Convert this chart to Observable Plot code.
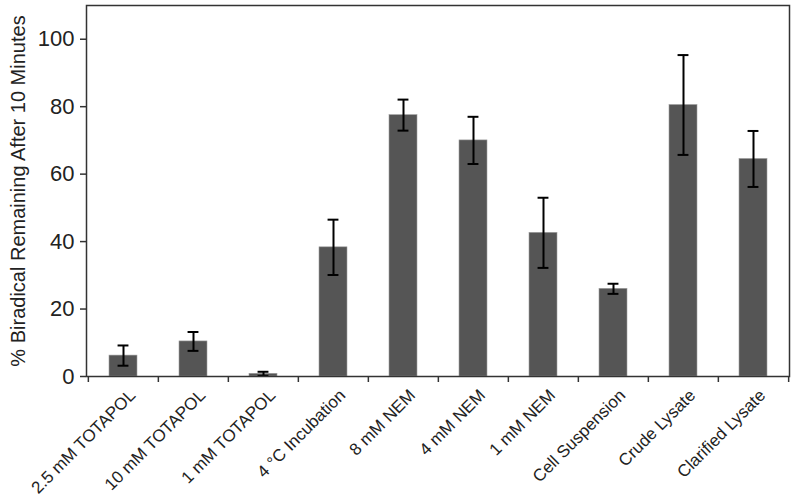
<!DOCTYPE html>
<html><head><meta charset="utf-8">
<script src="https://cdn.jsdelivr.net/npm/d3@7"></script>
<script src="https://cdn.jsdelivr.net/npm/@observablehq/plot@0.6"></script>
<style>body{margin:0;background:#fff;font-family:"Liberation Sans",Arial,sans-serif}</style>
</head><body><div id="chart"></div>
<script>
const categories = ["2.5 mM TOTAPOL","10 mM TOTAPOL","1 mM TOTAPOL","4 °C Incubation","8 mM NEM","4 mM NEM","1 mM NEM","Cell Suspension","Crude Lysate","Clarified Lysate"];
const values = [6.2, 10.4, 0.8, 38.3, 77.5, 70.0, 42.6, 26.0, 80.5, 64.5];
const errors = [3.0, 2.8, 0.6, 8.2, 4.6, 7.0, 10.4, 1.5, 14.8, 8.3];
const yTicks = [0, 20, 40, 60, 80, 100];

const data = categories.map((c, i) => ({cat: c, v: values[i], e: errors[i]}));
const W = 800, H = 503, ML = 86, MR = 11, MT = 5, MB = 127;
const PAD = 0.6;
const step = (W - ML - MR) / categories.length;
const barW = step * (1 - PAD);
const capInset = (barW - 11) / 2;

const chart = Plot.plot({
  width: W, height: H,
  marginLeft: ML, marginRight: MR, marginTop: MT, marginBottom: MB,
  style: {fontFamily: '"Liberation Sans", Arial, sans-serif', color: "#222", background: "#fff"},
  x: {domain: categories, paddingInner: PAD, paddingOuter: PAD / 2, label: null},
  y: {domain: [0, 110], label: null},
  marks: [
    Plot.barY(data, {x: "cat", y: "v", fill: "#555555", stroke: "#a0a0a0", strokeWidth: 0.6}),
    Plot.ruleX(data, {x: "cat", y1: d => d.v - d.e, y2: d => d.v + d.e, stroke: "#000", strokeWidth: 2}),
    Plot.tickY(data, {x: "cat", y: d => d.v - d.e, stroke: "#000", strokeWidth: 2, insetLeft: capInset, insetRight: capInset}),
    Plot.tickY(data, {x: "cat", y: d => d.v + d.e, stroke: "#000", strokeWidth: 2, insetLeft: capInset, insetRight: capInset}),
    Plot.frame({stroke: "#333", strokeWidth: 1.5}),
    Plot.axisY({ticks: yTicks, tickSize: 6, tickPadding: 6, fontSize: 22, stroke: "#333", strokeWidth: 1.5, fill: "#222", label: null}),
    Plot.axisX({ticks: categories, tickSize: 6, text: null, dx: -step / 2, stroke: "#333", strokeWidth: 1.5}),
    Plot.axisX({ticks: [categories[categories.length - 1]], tickSize: 6, text: null, dx: step / 2, stroke: "#333", strokeWidth: 1.5}),
    Plot.axisX({ticks: categories, tickSize: 0, tickPadding: 10, tickRotate: -45, fontSize: 17, fill: "#222", label: null, dx: 9, dy: 6}),
    Plot.text(["% Biradical Remaining After 10 Minutes"], {frameAnchor: "left", textAnchor: "middle", rotate: -90, dx: -68, fontSize: 20, fill: "#222"})
  ]
});
document.getElementById("chart").appendChild(chart);
</script>
</body></html>
